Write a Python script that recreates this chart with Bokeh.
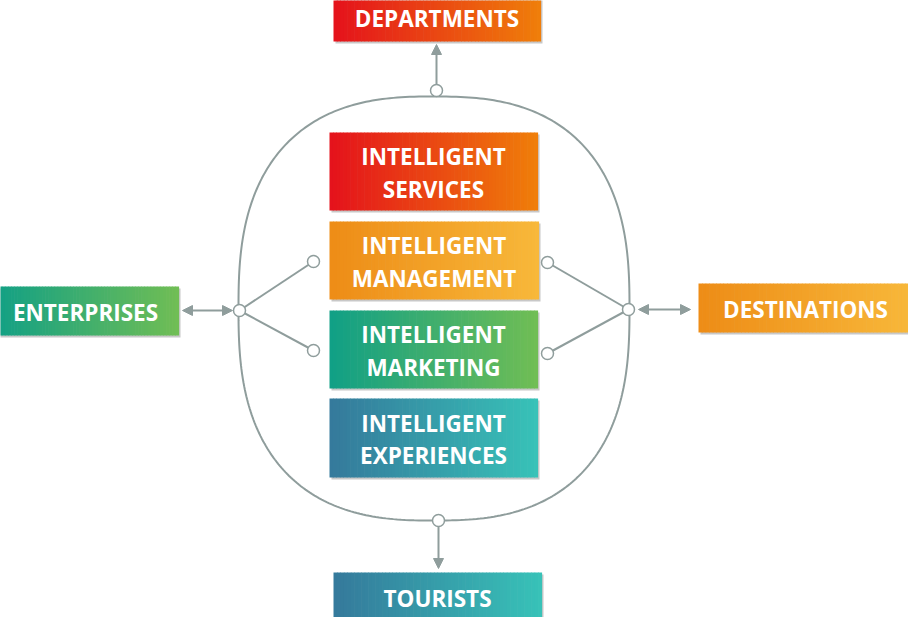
import numpy as np
from bokeh.plotting import figure
from bokeh.models import Range1d, Arrow, NormalHead
from bokeh.core.properties import value
from bokeh.embed import file_html
from bokeh.resources import INLINE

# boxes in reference pixel coordinates: label, left, top, right, bottom, start colour, end colour
labels = ["DEPARTMENTS", "INTELLIGENT\nSERVICES", "INTELLIGENT\nMANAGEMENT", "INTELLIGENT\nMARKETING",
          "INTELLIGENT\nEXPERIENCES", "ENTERPRISES", "DESTINATIONS", "TOURISTS"]
lefts = [341, 337, 337, 337, 337, 0, 706, 341]
tops = [0, 140, 229, 318, 406, 294, 291, 580]
rights = [548, 545, 546, 545, 545, 186, 920, 549]
bottoms = [49, 218, 307, 396, 485, 343, 340, 629]
c_start = ["#e5131c", "#e5131c", "#ee8d17", "#11a086", "#357a9c", "#11a086", "#ee8d17", "#357a9c"]
c_end = ["#f07e0a", "#f07e0a", "#f8b83a", "#70be55", "#38c2b8", "#70be55", "#f8b83a", "#38c2b8"]

GRAY = "#8f9d9c"

p = figure(width=908, height=617, x_range=Range1d(8, 916), y_range=Range1d(625, 8),
           output_backend="svg", toolbar_location=None, min_border=0)
p.axis.visible = False
p.grid.visible = False
p.outline_line_color = None
p.background_fill_color = "white"


def hex2rgb(h):
    return np.array([int(h[i:i + 2], 16) for i in (1, 3, 5)], dtype=float)


# outline (superellipse)
t = np.linspace(0, 2 * np.pi, 400)
n = 2.6
cx, cy, a, b = 441.5, 316, 195.5, 212
ox = cx + a * np.sign(np.cos(t)) * np.abs(np.cos(t)) ** (2 / n)
oy = cy + b * np.sign(np.sin(t)) * np.abs(np.sin(t)) ** (2 / n)
p.line(ox, oy, line_color=GRAY, line_width=2)

# boxes with shadow and gradient
for lab, l, tp, r, bt, cs, ce in zip(labels, lefts, tops, rights, bottoms, c_start, c_end):
    p.quad(left=l + 2, right=r + 2, top=tp + 2, bottom=bt + 2, fill_color="#c8c8c8", line_color=None)
    k = 60
    xs = np.linspace(l, r, k + 1)
    s, e = hex2rgb(cs), hex2rgb(ce)
    cols = ["#%02x%02x%02x" % tuple((s + (e - s) * f).astype(int)) for f in np.linspace(0, 1, k)]
    p.quad(left=xs[:-1], right=xs[1:] + 0.6, top=tp, bottom=bt, fill_color=cols, line_color=None)
    p.text(x=[(l + r) / 2], y=[(tp + bt) / 2 + 1.5], text=[lab], text_align="center", text_baseline="middle",
           text_color="white", text_font=value("Open Sans"), text_font_style="bold",
           text_font_size="22.5px", text_line_height=1.05)

# connectors
p.segment(x0=[247, 247, 636, 636], y0=[318, 318, 317, 317], x1=[321, 321, 555, 555], y1=[269, 358, 270, 361],
          line_color=GRAY, line_width=2)

head = dict(size=10, fill_color=GRAY, line_color=GRAY)
for x0, y0, x1, y1 in [(444, 92, 444, 52), (446, 534, 446, 576)]:
    p.add_layout(Arrow(end=NormalHead(**head), x_start=x0, y_start=y0, x_end=x1, y_end=y1,
                       line_color=GRAY, line_width=2))
for x0, x1, y in [(190, 240, 318), (646, 698, 317)]:
    p.add_layout(Arrow(start=NormalHead(**head), end=NormalHead(**head), x_start=x0, y_start=y, x_end=x1, y_end=y,
                       line_color=GRAY, line_width=2))

p.scatter(x=[444, 446, 247, 321, 321, 636, 555, 555], y=[98, 528, 318, 269, 358, 317, 270, 361],
          size=12, fill_color="white", line_color=GRAY, line_width=1.5)

open("out.html", "w").write(file_html(p, INLINE))
